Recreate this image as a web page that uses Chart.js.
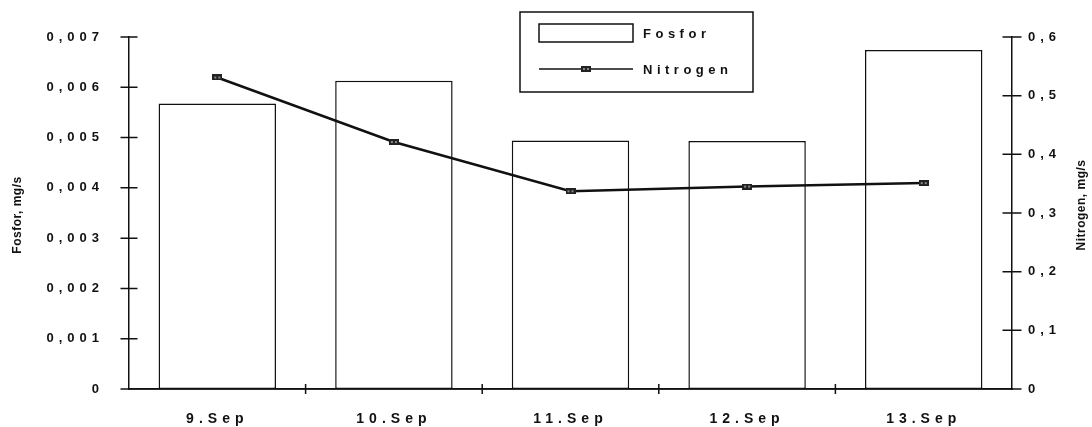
<!DOCTYPE html>
<html>
<head>
<meta charset="utf-8">
<script src="https://cdn.jsdelivr.net/npm/chart.js@4/dist/chart.umd.min.js"></script>
<style>
html,body{margin:0;padding:0;background:#fff;}
#wrap{width:1092px;height:427px;}
</style>
</head>
<body>
<div id="wrap"><canvas id="chart" width="1092" height="427"></canvas></div>
<script>
/* data */
const categories=['9.Sep','10.Sep','11.Sep','12.Sep','13.Sep'];
const fosfor=[0.00568,0.00613,0.00494,0.00493,0.00674];
const nitrogen=[0.531,0.421,0.337,0.345,0.351];
const fosforTicks=['0','0,001','0,002','0,003','0,004','0,005','0,006','0,007'];
const nitrogenTicks=['0','0,1','0,2','0,3','0,4','0,5','0,6'];

const INK='#111';
const FONT='"Liberation Sans", Arial, sans-serif';

/* small rectangular marker like the scanned one */
const marker=document.createElement('canvas');
marker.width=10;marker.height=6;
{const m=marker.getContext('2d');m.fillStyle='#222';m.fillRect(0,0,10,6);
 m.fillStyle='#888';m.fillRect(2,2,2,2);m.fillRect(6,2,2,2);}

const spacing={id:'spacing',
  beforeDraw(c){c.ctx.letterSpacing='5px';},
  afterDraw(c){c.ctx.letterSpacing='0px';}};

const extras={id:'extras',
  afterDraw(c){
    const ctx=c.ctx,{x,y,y1}=c.scales,a=c.chartArea;
    ctx.save();
    ctx.strokeStyle=INK;ctx.lineWidth=1.5;
    ctx.beginPath();
    /* axis lines on top of the bars, plus crossing tick marks */
    ctx.moveTo(a.left,a.bottom);ctx.lineTo(a.right,a.bottom);
    y.ticks.forEach((t,i)=>{const p=y.getPixelForTick(i);ctx.moveTo(a.left-8.5,p);ctx.lineTo(a.left+8.5,p);});
    y1.ticks.forEach((t,i)=>{const p=y1.getPixelForTick(i);ctx.moveTo(a.right-9.5,p);ctx.lineTo(a.right+9.5,p);});
    for(let i=1;i<categories.length;i++){
      const p=(x.getPixelForValue(i-1)+x.getPixelForValue(i))/2;
      ctx.moveTo(p,a.bottom-5);ctx.lineTo(p,a.bottom+5);
    }
    ctx.stroke();

    /* axis titles */
    ctx.fillStyle=INK;ctx.font='bold 12px '+FONT;ctx.letterSpacing='0.5px';
    ctx.textAlign='center';ctx.textBaseline='middle';
    ctx.save();ctx.translate(18,215);ctx.rotate(-Math.PI/2);ctx.fillText('Fosfor, mg/s',0,0);ctx.restore();
    ctx.save();ctx.translate(1082,205);ctx.rotate(-Math.PI/2);ctx.fillText('Nitrogen, mg/s',0,0);ctx.restore();

    /* legend */
    const bar=c.data.datasets.find(d=>d.type==='bar');
    const line=c.data.datasets.find(d=>d.type==='line');
    ctx.lineWidth=1.5;ctx.strokeStyle=INK;
    ctx.fillStyle='#fff';ctx.fillRect(520,12,233,80);ctx.strokeRect(520,12,233,80);
    ctx.strokeRect(539,24,94,18);
    ctx.beginPath();ctx.moveTo(539,69);ctx.lineTo(633,69);ctx.stroke();
    ctx.drawImage(marker,581,66);
    ctx.fillStyle=INK;ctx.font='bold 13px '+FONT;ctx.letterSpacing='4.5px';
    ctx.textAlign='left';ctx.textBaseline='middle';
    ctx.fillText(bar.label,643,34);
    ctx.fillText(line.label,643,70);
    ctx.restore();
  }};

new Chart(document.getElementById('chart'),{
  type:'bar',
  data:{labels:categories,datasets:[
    {type:'line',label:'Nitrogen',data:nitrogen,yAxisID:'y1',order:0,
     borderColor:INK,borderWidth:2.5,tension:0,fill:false,
     pointStyle:marker,pointRadius:5,pointHoverRadius:5},
    {type:'bar',label:'Fosfor',data:fosfor,yAxisID:'y',order:1,
     backgroundColor:'#fff',borderColor:INK,borderWidth:1.5,borderSkipped:false,
     categoryPercentage:1,barPercentage:0.665}
  ]},
  options:{responsive:false,animation:false,devicePixelRatio:1,
    layout:{padding:{top:37,left:0,right:0,bottom:0}},
    plugins:{legend:{display:false},tooltip:{enabled:false}},
    scales:{
      x:{offset:true,grid:{display:false,offset:true},
         border:{display:true,color:INK,width:1.5},
         ticks:{color:INK,font:{family:FONT,size:14,weight:'bold'},padding:14,maxRotation:0,autoSkip:false},
         afterFit:s=>{s.height=38;}},
      y:{position:'left',min:0,max:0.007,
         grid:{display:false},border:{display:true,color:INK,width:1.5},
         ticks:{stepSize:0.001,color:INK,font:{family:FONT,size:13,weight:'bold'},padding:17,
                callback:(v,i)=>fosforTicks[i]},
         afterFit:s=>{s.width=129;}},
      y1:{position:'right',min:0,max:0.6,
         grid:{display:false},border:{display:true,color:INK,width:1.5},
         ticks:{stepSize:0.1,color:INK,font:{family:FONT,size:13,weight:'bold'},padding:8,
                callback:(v,i)=>nitrogenTicks[i]},
         afterFit:s=>{s.width=80;}}
    }},
  plugins:[spacing,extras]
});
</script>
</body>
</html>
